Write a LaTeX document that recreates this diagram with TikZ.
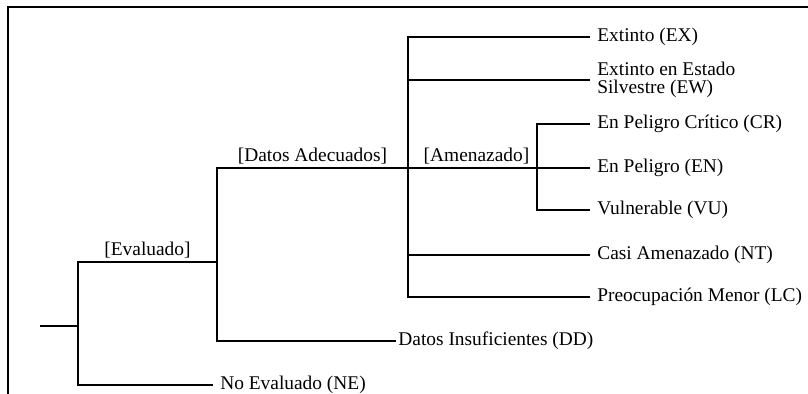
\documentclass[tikz,border=0pt]{standalone}
\usepackage{fontspec}
\setmainfont{Liberation Serif}
\tikzset{
  leaf/.style={anchor=west, inner xsep=5pt, inner ysep=0pt, align=left},
  tag/.style={above, inner sep=2pt},
  branch/.style={line width=1.4pt},
  frame/.style={line width=1.8pt},
}

\begin{document}
\begin{tikzpicture}[font=\fontsize{13.8}{13}\selectfont]
    \useasboundingbox (0,0) rectangle (20.2,9.85);
    \draw[frame] (0.2,0) -- (0.2,9.675) -- (20.2,9.675);
    % junctions
    \coordinate (start) at (1.0,1.7);
    \coordinate (eval) at (1.95,1.7);
    \coordinate (adec) at (5.425,3.3);
    \coordinate (amen) at (10.2,5.65);
    \coordinate (threat) at (13.425,5.65);
    % categories
    \node[leaf] (ne) at (5.325,0.225) {No Evaluado (NE)};
    \node[leaf, inner xsep=1.5pt] (dd) at (9.9,1.325) {Datos Insuficientes (DD)};
    \node[leaf] (ex) at (14.75,8.925) {Extinto (EX)};
    \node[leaf] (ew) at (14.75,7.85) {Extinto en Estado\\Silvestre (EW)};
    \node[leaf] (cr) at (14.75,6.75) {En Peligro Crítico (CR)};
    \node[leaf] (en) at (14.75,5.65) {En Peligro (EN)};
    \node[leaf] (vu) at (14.75,4.6) {Vulnerable (VU)};
    \node[leaf] (nt) at (14.75,3.475) {Casi Amenazado (NT)};
    \node[leaf] (lc) at (14.75,2.425) {Preocupación Menor (LC)};
    % tree
    \draw[branch] (start) -- (eval);
    \draw[branch] (eval) |- node[tag, pos=0.75] {[Evaluado]} (adec);
    \draw[branch] (eval) |- (ne);
    \draw[branch] (adec) |- node[tag, pos=0.75] {[Datos Adecuados]} (amen);
    \draw[branch] (adec) |- (dd);
    \draw[branch] (amen) -- node[tag, xshift=0.1cm] {[Amenazado]} (threat);
    \draw[branch] (amen) |- (ex);
    \draw[branch] (amen) |- (ew);
    \draw[branch] (amen) |- (nt);
    \draw[branch] (amen) |- (lc);
    \draw[branch] (threat) |- (cr);
    \draw[branch] (threat) -- (en);
    \draw[branch] (threat) |- (vu);
\end{tikzpicture}
\end{document}
